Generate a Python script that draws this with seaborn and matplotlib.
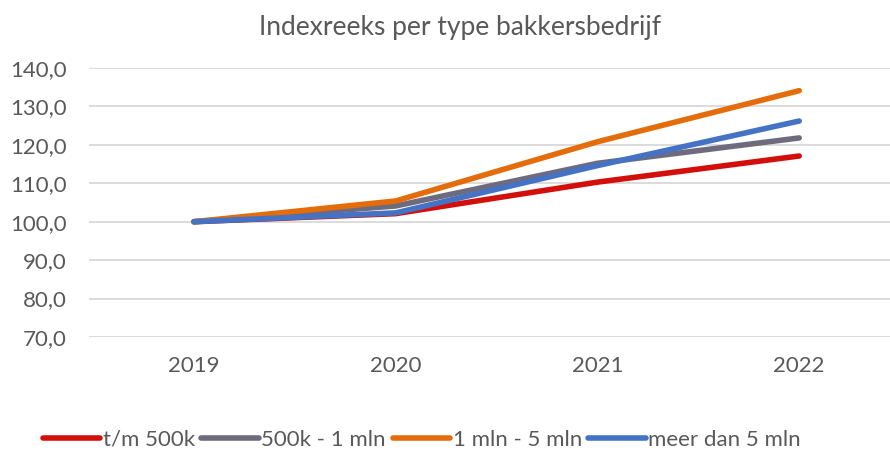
import pandas as pd
import matplotlib
matplotlib.use("Agg")
import matplotlib.pyplot as plt
import matplotlib.ticker as mticker
import seaborn as sns

# Data
years = ["2019", "2020", "2021", "2022"]
series_names = ["t/m 500k", "500k - 1 mln", "1 mln - 5 mln", "meer dan 5 mln"]
tm_500k = [100.0, 102.1, 110.3, 117.1]
k500_1mln = [100.0, 104.1, 115.2, 121.8]
mln1_5 = [100.0, 105.4, 120.8, 134.1]
meer_5mln = [100.0, 102.3, 114.6, 126.2]
colors = ["#D30F0B", "#6E6B7E", "#E46C0A", "#4472C4"]

values = [tm_500k, k500_1mln, mln1_5, meer_5mln]
rows = []
for name, vals in zip(series_names, values):
    for i, (yr, v) in enumerate(zip(years, vals)):
        rows.append({"pos": i, "jaar": yr, "type": name, "index": v})
df = pd.DataFrame(rows)

sns.set_theme(style="white")
plt.rcParams["font.family"] = ["Lato", "DejaVu Sans"]
text_color = "#595959"

fig = plt.figure(figsize=(8.9, 4.54), dpi=100)
ax = fig.add_axes([89 / 890, 1 - 337 / 454, 1 - 89 / 890, (337 - 68) / 454])

sns.lineplot(data=df, x="pos", y="index", hue="type", hue_order=series_names,
             palette=colors, linewidth=4, ax=ax, legend=False,
             solid_capstyle="round")

ax.set_xlim(-0.52, 3.45)
ax.set_ylim(70, 140)
ax.set_yticks(range(70, 141, 10))
ax.yaxis.set_major_formatter(mticker.FuncFormatter(lambda v, p: f"{v:.1f}".replace(".", ",")))
ax.set_xticks(range(len(years)))
ax.set_xticklabels(years)
ax.grid(axis="y", color="#D9D9D9", linewidth=1.3)
ax.set_axisbelow(True)
for s in ax.spines.values():
    s.set_visible(False)
ax.tick_params(axis="both", length=0, labelsize=16, colors=text_color)
ax.tick_params(axis="y", pad=16)
ax.tick_params(axis="x", pad=14)
ax.set_xlabel("")
ax.set_ylabel("")

fig.text(460 / 890, 1 - 28 / 454, "Indexreeks per type bakkersbedrijf", ha="center", va="center",
         fontsize=19, color=text_color)

handles = [plt.Line2D([], [], color=c, linewidth=4, solid_capstyle="round") for c in colors]
fig.legend(handles, series_names, loc="center", bbox_to_anchor=(0.474, 1 - 440 / 454),
           ncol=4, frameon=False, fontsize=16, labelcolor=text_color,
           handlelength=2.6, handletextpad=0.1, columnspacing=0.3)

fig.savefig("out.png", dpi=100)
